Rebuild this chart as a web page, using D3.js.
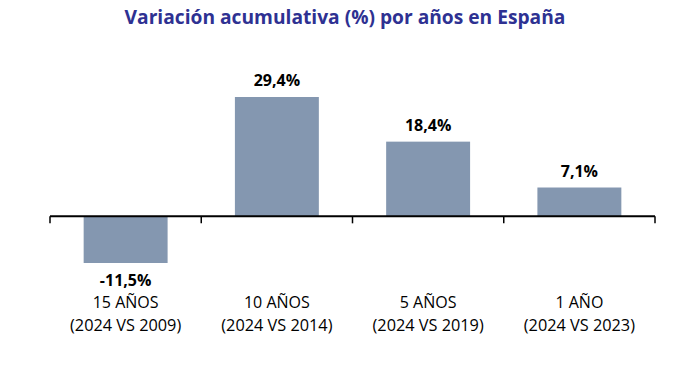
<!DOCTYPE html>
<html><head><meta charset="utf-8">
<script src="https://cdn.jsdelivr.net/npm/d3@7"></script>
<style>body{margin:0;background:#fff;}svg{display:block;}</style>
</head><body>
<svg id="c" width="686" height="367"></svg>
<script>
const categories = ["15 AÑOS", "10 AÑOS", "5 AÑOS", "1 AÑO"];
const subLabels = ["(2024 VS 2009)", "(2024 VS 2014)", "(2024 VS 2019)", "(2024 VS 2023)"];
const values = [-11.5, 29.4, 18.4, 7.1];
const valueLabels = ["-11,5%", "29,4%", "18,4%", "7,1%"];
const title = "Variación acumulativa (%) por años en España";

const svg = d3.select("#c");
const font = "'Open Sans', 'Noto Sans', sans-serif";
const x = d3.scaleBand().domain(categories).range([50, 655]).paddingInner(0.445).paddingOuter(0.2225);
const y = d3.scaleLinear().domain([-11.5, 29.4]).range([263, 97]);

svg.append("text").attr("x", 345).attr("y", 24).attr("text-anchor", "middle")
  .attr("font-family", font).attr("font-weight", "bold").attr("font-size", 19.2)
  .attr("fill", "#2E3192").text(title);

svg.selectAll("rect.bar").data(values).join("rect").attr("class", "bar")
  .attr("x", (d, i) => x(categories[i]))
  .attr("width", x.bandwidth())
  .attr("y", d => Math.min(y(d), y(0)))
  .attr("height", d => Math.abs(y(d) - y(0)))
  .attr("fill", "#8497B0");

// axis
const ticks = d3.range(categories.length + 1).map(i => 50 + i * (605 / categories.length));
svg.append("line").attr("x1", 50).attr("x2", 655).attr("y1", y(0)).attr("y2", y(0))
  .attr("stroke", "#000").attr("stroke-width", 2);
svg.selectAll("line.tick").data(ticks).join("line").attr("class", "tick")
  .attr("x1", d => d).attr("x2", d => d).attr("y1", y(0)).attr("y2", y(0) + 7)
  .attr("stroke", "#000").attr("stroke-width", 1.5);

svg.selectAll("text.val").data(values).join("text").attr("class", "val")
  .attr("x", (d, i) => x(categories[i]) + x.bandwidth() / 2)
  .attr("y", d => d >= 0 ? y(d) - 11 : y(d) + 23)
  .attr("text-anchor", "middle").attr("font-family", font).attr("font-weight", "bold")
  .attr("font-size", 16).attr("fill", "#000")
  .text((d, i) => valueLabels[i]);

const cx = (i) => (ticks[i] + ticks[i + 1]) / 2;
svg.selectAll("text.cat").data(categories).join("text").attr("class", "cat")
  .attr("x", (d, i) => cx(i)).attr("y", 308).attr("text-anchor", "middle")
  .attr("font-family", font).attr("font-size", 16).attr("fill", "#000").text(d => d);
svg.selectAll("text.sub").data(subLabels).join("text").attr("class", "sub")
  .attr("x", (d, i) => cx(i)).attr("y", 331).attr("text-anchor", "middle")
  .attr("font-family", font).attr("font-size", 16.3).attr("fill", "#000").text(d => d);
</script>
</body></html>
